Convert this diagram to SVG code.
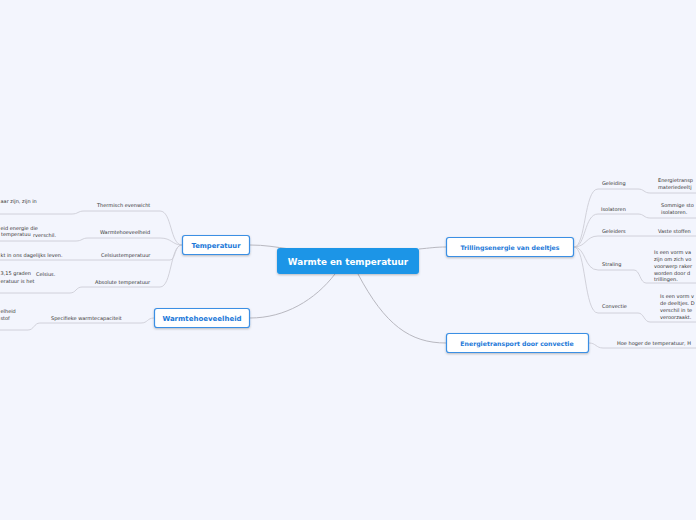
<svg xmlns="http://www.w3.org/2000/svg" width="696" height="520" viewBox="0 0 696 520">
<defs>
<filter id="sh" x="-10%" y="-20%" width="120%" height="150%"><feDropShadow dx="0" dy="1" stdDeviation="0.8" flood-color="#000" flood-opacity="0.25"/></filter>
</defs>
<style>
.main{fill:none;stroke:#b8b8c0;stroke-width:1}
.br{fill:none;stroke:#cdcdd6;stroke-width:0.9}
.node{fill:#fff;stroke:#3b8fe4;stroke-width:1.2}
.nt{font-family:"DejaVu Sans",Verdana,sans-serif;font-weight:bold;fill:#1b78d8;text-anchor:middle}
.lbl{font-family:"DejaVu Sans",Verdana,sans-serif;font-size:5px;fill:#333}
.leaf{font-family:"DejaVu Sans",Verdana,sans-serif;font-size:5px;fill:#333}
</style>
<rect width="696" height="520" fill="#f3f5fd"/>
<g id="connectors">
<path class="main" d="M250,245 C265,245 275,247 290,249"/>
<path class="main" d="M335,274 C315,300 285,318 250,318"/>
<path class="main" d="M419,249 C430,248 436,247 446,247"/>
<path class="main" d="M358,274 C385,325 410,343 446,343"/>
<path class="br" d="M182,245 C170,245 172,211 160,211 L84,211 C78,211 78,214 72,214 L0,214"/>
<path class="br" d="M182,245 C172,245 172,238 160,238 L88,238 C82,238 82,241 76,241 L0,241"/>
<path class="br" d="M182,245 C174,245 176,260 170,260 L0,260"/>
<path class="br" d="M182,245 C170,245 172,287 160,287 L82,287 C76,287 76,293 70,293 L0,293"/>
<path class="br" d="M154,318 C147,318 148,323 141,323 L40,323 C34,323 34,330 28,330 L0,330"/>
<path class="br" d="M574,247 C586,247 584,189 598,189 L638,189 C644,189 644,193 650,193 L696,193"/>
<path class="br" d="M574,247 C586,247 584,214 598,214 L638,214 C644,214 644,218 650,218 L696,218"/>
<path class="br" d="M574,247 C586,247 586,236 598,236 L696,236"/>
<path class="br" d="M574,247 C586,247 584,270 598,270 L634,270 C640,270 640,283 646,283 L696,283"/>
<path class="br" d="M574,247 C586,247 584,313 598,313 L638,313 C644,313 644,322 650,322 L696,322"/>
<path class="br" d="M589,343 C596,343 596,348 603,348 L696,348"/>
</g>
<g id="center">
<rect x="277" y="248" width="142" height="26" rx="3" fill="#1b95e7" filter="url(#sh)"/>
<text x="348" y="265" font-family="DejaVu Sans,Verdana,sans-serif" font-weight="bold" font-size="8.8" fill="#fff" text-anchor="middle">Warmte en temperatuur</text>
</g>
<g id="temperatuur">
<rect class="node" x="182.5" y="235.5" width="67" height="19" rx="2.5" filter="url(#sh)"/>
<text class="nt" x="216" y="248" font-size="6.8">Temperatuur</text>
</g>
<g id="warmtehoeveelheid">
<rect class="node" x="154.5" y="308.5" width="95" height="19" rx="2.5" filter="url(#sh)"/>
<text class="nt" x="202" y="321" font-size="7">Warmtehoeveelheid</text>
</g>
<g id="trillingsenergie">
<rect class="node" x="446.5" y="237.5" width="127" height="19" rx="2.5" filter="url(#sh)"/>
<text class="nt" x="510" y="249.5" font-size="6.2">Trillingsenergie van deeltjes</text>
</g>
<g id="energietransport">
<rect class="node" x="446.5" y="333.5" width="142" height="19" rx="2.5" filter="url(#sh)"/>
<text class="nt" x="517" y="346" font-size="6.2">Energietransport door convectie</text>
</g>
<g id="thermisch">
<text class="lbl" x="97" y="207">Thermisch evenwicht</text>
<text class="leaf" x="0.5" y="203">aar zijn, zijn in</text>
</g>
<g id="warmte-child">
<text class="lbl" x="100" y="234">Warmtehoeveelheid</text>
<text class="leaf" x="0.5" y="230">eid energie die</text>
<text class="leaf" x="1" y="236">temperatuu</text>
<text class="leaf" x="33" y="237">rverschil.</text>
</g>
<g id="celsius">
<text class="lbl" x="101" y="257">Celsiustemperatuur</text>
<text class="leaf" x="0.5" y="257">kt in ons dagelijks leven.</text>
</g>
<g id="absolute">
<text class="lbl" x="95" y="284">Absolute temperatuur</text>
<text class="leaf" x="0.5" y="275">3,15 graden</text>
<text class="leaf" x="36" y="276">Celsius.</text>
<text class="leaf" x="0.5" y="283">eratuur is het</text>
</g>
<g id="specifieke">
<text class="lbl" x="51" y="320">Specifieke warmtecapaciteit</text>
<text class="leaf" x="0.5" y="313">elheid</text>
<text class="leaf" x="0.5" y="320">stof</text>
</g>
<g id="geleiding">
<text class="lbl" x="602" y="185">Geleiding</text>
<text class="leaf" x="658" y="182">Energietransp</text>
<text class="leaf" x="658" y="189">materiedeeltj</text>
</g>
<g id="isolatoren">
<text class="lbl" x="601" y="211">Isolatoren</text>
<text class="leaf" x="661" y="207">Sommige sto</text>
<text class="leaf" x="661" y="214">isolatoren.</text>
</g>
<g id="geleiders">
<text class="lbl" x="602" y="233">Geleiders</text>
<text class="leaf" x="658" y="233">Vaste stoffen</text>
</g>
<g id="straling">
<text class="lbl" x="602" y="266">Straling</text>
<text class="leaf" x="654" y="254">Is een vorm va</text>
<text class="leaf" x="654" y="261">zijn om zich vo</text>
<text class="leaf" x="654" y="268">voorwerp raker</text>
<text class="leaf" x="654" y="275">worden door d</text>
<text class="leaf" x="654" y="281">trillingen.</text>
</g>
<g id="convectie">
<text class="lbl" x="602" y="308">Convectie</text>
<text class="leaf" x="660" y="298">Is een vorm v</text>
<text class="leaf" x="660" y="305">de deeltjes. D</text>
<text class="leaf" x="660" y="312">verschil in te</text>
<text class="leaf" x="660" y="319">veroorzaakt.</text>
</g>
<g id="hoe-hoger">
<text class="leaf" x="617" y="345">Hoe hoger de temperatuur, H</text>
</g>
</svg>
